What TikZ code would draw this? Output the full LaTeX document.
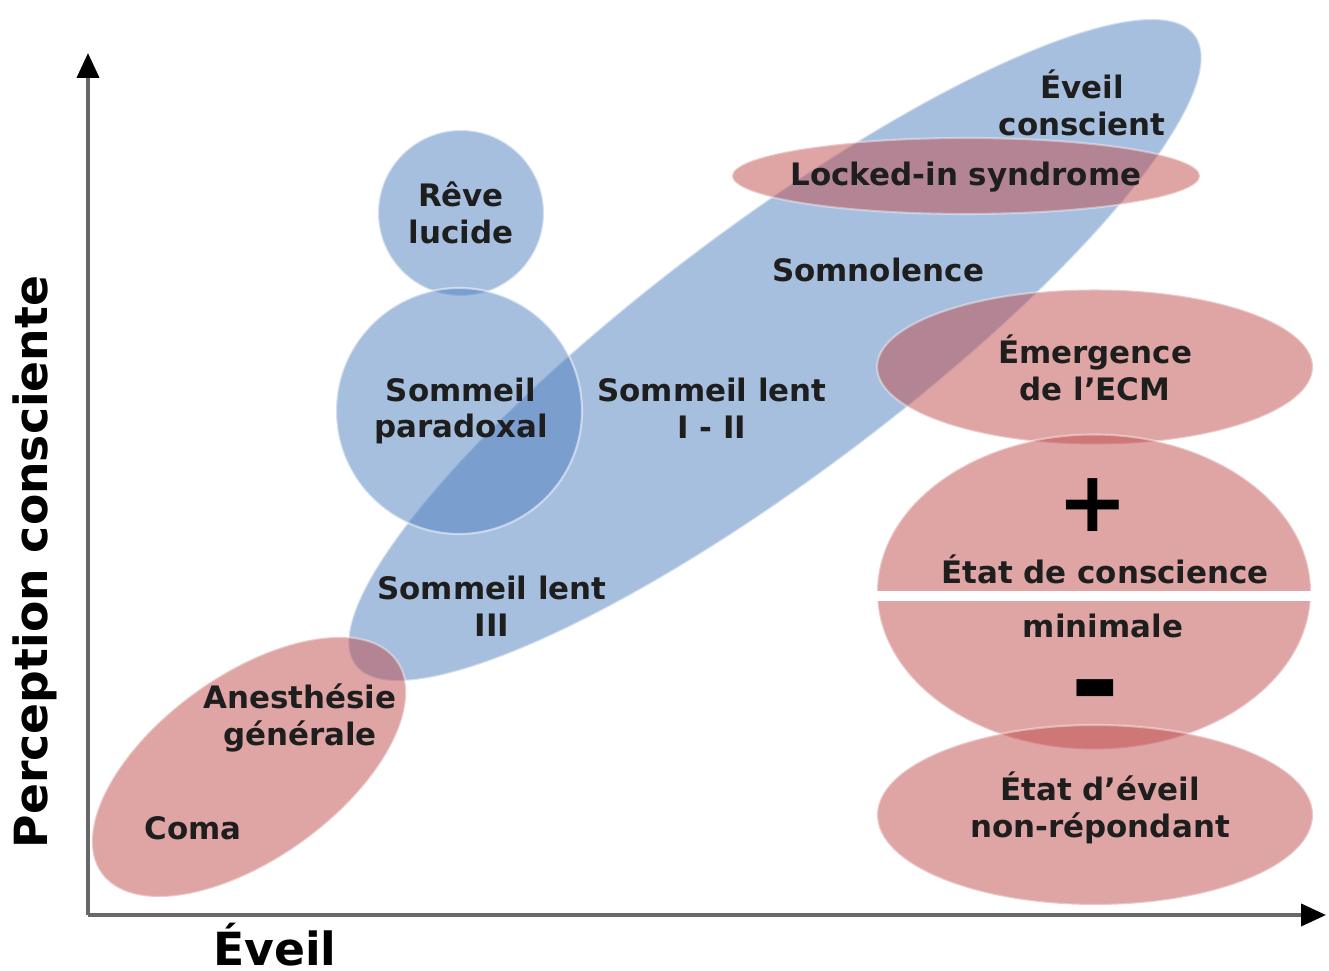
\documentclass[tikz,border=0pt]{standalone}
\usepackage{fontspec}
\setmainfont{DejaVu Sans}
\usetikzlibrary{arrows.meta, shapes.geometric}
\definecolor{bluefill}{RGB}{79,127,191}
\definecolor{redfill}{RGB}{191,75,75}
\definecolor{axisgray}{RGB}{104,104,104}
\definecolor{txt}{RGB}{30,30,30}

\begin{document}
\begin{tikzpicture}[
        blueblob/.style={ellipse, inner sep=0pt, fill=bluefill, fill opacity=0.5, draw=white, draw opacity=0.5, line width=0.6pt},
        redblob/.style={ellipse, inner sep=0pt, fill=redfill, fill opacity=0.5, draw=white, draw opacity=0.4, line width=0.6pt},
        lbl/.style={align=center, text=txt, font=\fontsize{8.8}{10.5}\selectfont\bfseries},
        sign/.style={text=black, inner sep=0pt},
        axislabel/.style={text=black, font=\fontsize{13}{15}\selectfont\bfseries}
    ]
            \useasboundingbox (-0.88,-0.56) rectangle (12.41,9.15);

            \coordinate (origin) at (0,0);
            \coordinate (ytip) at (0,8.62);
            \coordinate (xtip) at (12.38,0);
            \draw[axisgray, line width=1.1pt, -{Triangle[black, length=0.25cm, width=0.22cm]}] (origin) -- (ytip);
            \draw[axisgray, line width=1.1pt, -{Triangle[black, length=0.25cm, width=0.22cm]}] (origin) -- (xtip);
            \node[axislabel, rotate=90] (ylabel) at (-0.53,3.53) {Perception consciente};
            \node[axislabel] (xlabel) at (1.87,-0.30) {Éveil};

            \node[blueblob, minimum width=10.5cm, minimum height=2.52cm, rotate=36.9] (wake) at (6.87,5.65) {};
            \node[blueblob, circle, minimum size=1.66cm] (lucid) at (3.73,7.02) {};
            \node[blueblob, circle, minimum size=2.46cm] (rem) at (3.71,5.04) {};

            \node[redblob, minimum width=4.68cm, minimum height=0.76cm] (locked) at (8.78,7.39) {};
            \node[redblob, minimum width=3.64cm, minimum height=1.84cm, rotate=35.8] (coma) at (1.61,1.48) {};
            \node[redblob, minimum width=4.36cm, minimum height=1.55cm] (emerg) at (10.07,5.48) {};
            \node[redblob, minimum width=4.34cm, minimum height=3.15cm] (ecm) at (10.06,3.23) {};
            \node[redblob, minimum width=4.36cm, minimum height=1.80cm] (unresp) at (10.07,1.00) {};
            \draw[white, line width=2.8pt] ([yshift=-0.4mm]ecm.west) -- ([yshift=-0.4mm]ecm.east);

            \node[lbl] (eveiltxt) at (9.94,8.12) {Éveil\\conscient};
            \node[lbl] (lockedtxt) at (8.78,7.38) {Locked-in syndrome};
            \node[lbl] (lucidtxt) at (3.73,7.02) {Rêve\\lucide};
            \node[lbl] (somnotxt) at (7.90,6.45) {Somnolence};
            \node[lbl] (remtxt) at (3.73,5.04) {Sommeil\\paradoxal};
            \node[lbl] (lighttxt) at (6.24,5.07) {Sommeil lent\\I - II};
            \node[lbl] (deeptxt) at (4.04,3.09) {Sommeil lent\\III};
            \node[lbl] (emergtxt) at (10.07,5.47) {Émergence\\de l’ECM};
            \node[sign, font=\fontsize{24}{24}\selectfont\bfseries] (plus) at (10.05,4.10) {+};
            \node[lbl] (ecmtop) at (10.17,3.46) {État de conscience};
            \node[lbl] (ecmbottom) at (10.15,2.89) {minimale};
            \node[sign, font=\fontsize{34}{34}\selectfont\bfseries] (minus) at (10.07,2.14) {-};
            \node[lbl] (unresptxt) at (10.12,1.07) {État d’éveil\\non-répondant};
            \node[lbl] (anesttxt) at (2.12,1.97) {Anesthésie\\générale};
            \node[lbl] (comatxt) at (1.05,0.87) {Coma};
        \end{tikzpicture}
\end{document}
